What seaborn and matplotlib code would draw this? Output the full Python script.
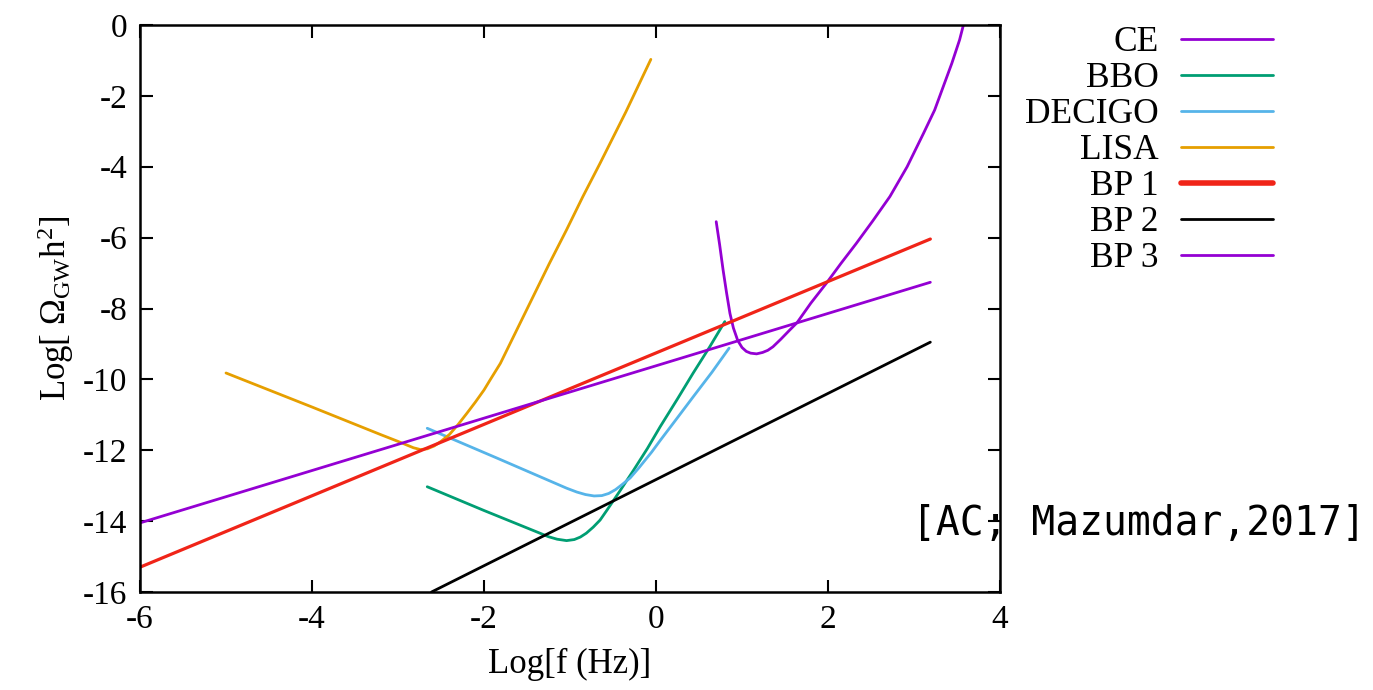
import numpy as np
import pandas as pd
import matplotlib
matplotlib.use("Agg")
import matplotlib.pyplot as plt
import seaborn as sns
from matplotlib.lines import Line2D

# ---- data ----
ce_x = [0.70, 0.74, 0.78, 0.82, 0.86, 0.90, 0.95, 1.00, 1.05, 1.10, 1.17, 1.24, 1.30, 1.36, 1.45,
        1.55, 1.64, 1.80, 1.98, 2.15, 2.33, 2.52, 2.72, 2.92, 3.11, 3.24, 3.34, 3.44, 3.53, 3.58]
ce_y = [-5.55, -6.20, -6.91, -7.55, -8.14, -8.55, -8.90, -9.10, -9.21, -9.26, -9.28, -9.24, -9.18,
        -9.08, -8.87, -8.62, -8.40, -7.85, -7.29, -6.73, -6.16, -5.53, -4.84, -4.00, -3.06, -2.40,
        -1.74, -1.08, -0.42, 0.05]

bbo_x = [-2.66, -2.00, -1.35, -1.25, -1.15, -1.04, -0.95, -0.88, -0.81, -0.73, -0.65, -0.57, -0.42,
         -0.26, -0.10, 0.05, 0.25, 0.43, 0.62, 0.80]
bbo_y = [-13.03, -13.70, -14.34, -14.44, -14.51, -14.55, -14.52, -14.45, -14.34, -14.17, -13.97,
         -13.69, -13.15, -12.56, -11.95, -11.33, -10.55, -9.83, -9.10, -8.37]

decigo_x = [-2.66, -1.85, -1.04, -0.92, -0.82, -0.72, -0.63, -0.55, -0.47, -0.39, -0.30, -0.20,
            -0.05, 0.05, 0.25, 0.43, 0.65, 0.85]
decigo_y = [-11.38, -12.22, -13.07, -13.18, -13.25, -13.29, -13.28, -13.22, -13.11, -12.96, -12.78,
            -12.50, -12.05, -11.72, -11.08, -10.50, -9.80, -9.12]

lisa_x = [-5.00, -4.00, -3.20, -3.00, -2.90, -2.82, -2.74, -2.66, -2.58, -2.50, -2.40, -2.30, -2.20,
          -2.10, -2.00, -1.93, -1.81, -1.62, -1.43, -1.24, -1.04, -0.85, -0.65, -0.35, -0.06]
lisa_y = [-9.82, -10.78, -11.56, -11.75, -11.85, -11.93, -11.98, -11.96, -11.88, -11.75, -11.55,
          -11.27, -10.96, -10.64, -10.30, -10.02, -9.55, -8.61, -7.67, -6.73, -5.78, -4.84, -3.90,
          -2.45, -0.97]

bp1_x = [-6.0, 3.19]
bp1_y = [-15.30, -6.04]

bp2_x = [-2.61, 3.19]
bp2_y = [-16.00, -8.95]

bp3_x = [-6.0, 3.19]
bp3_y = [-14.05, -7.26]

labels = ["CE", "BBO", "DECIGO", "LISA", "BP 1", "BP 2", "BP 3"]
xticks = [-6, -4, -2, 0, 2, 4]
yticks = [0, -2, -4, -6, -8, -10, -12, -14, -16]

colors = {"CE": "#9400D3", "BBO": "#009E73", "DECIGO": "#56B4E9", "LISA": "#E69F00",
          "BP 1": "#F02418", "BP 2": "#000000", "BP 3": "#9400D3"}
widths = {"CE": 2.0, "BBO": 2.0, "DECIGO": 2.0, "LISA": 2.0, "BP 1": 2.3, "BP 2": 2.0, "BP 3": 2.0}
legend_widths = {"CE": 2.0, "BBO": 2.0, "DECIGO": 2.0, "LISA": 2.0, "BP 1": 4.0, "BP 2": 2.0, "BP 3": 2.0}

series = {"CE": (ce_x, ce_y), "BBO": (bbo_x, bbo_y), "DECIGO": (decigo_x, decigo_y),
          "LISA": (lisa_x, lisa_y), "BP 1": (bp1_x, bp1_y), "BP 2": (bp2_x, bp2_y), "BP 3": (bp3_x, bp3_y)}

# ---- style ----
sns.set_theme(style="ticks")
plt.rcParams["font.family"] = ["Liberation Serif", "DejaVu Serif"]
plt.rcParams["mathtext.fontset"] = "custom"
plt.rcParams["mathtext.rm"] = "Liberation Serif"
plt.rcParams["mathtext.it"] = "Liberation Serif:italic"
plt.rcParams["axes.unicode_minus"] = False
plt.rcParams["text.color"] = "black"
plt.rcParams["axes.labelcolor"] = "black"

fig = plt.figure(figsize=(13.73, 6.90), dpi=100)
ax = fig.add_axes([140 / 1373, 1 - 592 / 690, 860 / 1373, 567 / 690])

for name in labels:
    xs, ys = series[name]
    df = pd.DataFrame({"x": xs, "y": ys})
    sns.lineplot(data=df, x="x", y="y", ax=ax, color=colors[name], lw=widths[name],
                 sort=False, estimator=None, legend=False, zorder=2)

ax.set_xlim(-6, 4)
ax.set_ylim(-16, 0)
ax.set_xticks(xticks)
ax.set_yticks(yticks)
ax.set_xticklabels([str(t) for t in xticks])
ax.set_yticklabels([str(t) for t in yticks])
ax.tick_params(direction="in", length=9, width=1.5, top=True, right=True,
               labelsize=24, colors="black", pad=9)
for sp in ax.spines.values():
    sp.set_linewidth(1.8)
    sp.set_color("black")

ax.set_xlabel("Log[f (Hz)]", fontsize=25, labelpad=9)
ax.set_ylabel(r"Log[ $\Omega_{\rm GW}$h$^{2}$]", fontsize=25, labelpad=5)

handles = [Line2D([], [], color=colors[n], lw=legend_widths[n]) for n in labels]
fig.legend(handles, labels, loc="upper right", bbox_to_anchor=(1273 / 1373, 1 - 26 / 690),
           frameon=False, markerfirst=False, fontsize=25.5, handlelength=2.6,
           handletextpad=0.62, labelspacing=0.085, borderpad=0, borderaxespad=0)

ax.text(912 / 1373, 1 - 524 / 690, "[AC; Mazumdar,2017]", transform=fig.transFigure,
        family="DejaVu Sans Mono", fontsize=28.5, va="center", ha="left",
        clip_on=False, zorder=2)

fig.savefig("out.png", dpi=100)
